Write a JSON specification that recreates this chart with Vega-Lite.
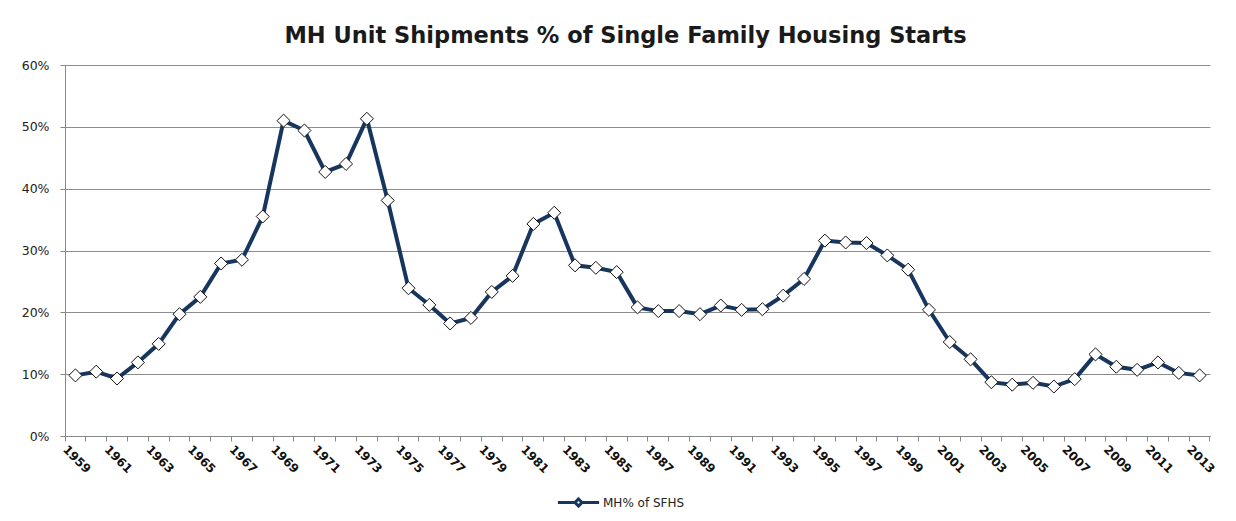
{
  "$schema": "https://vega.github.io/schema/vega-lite/v6.json",
  "autosize": {"type": "none"},
  "width": 1145,
  "height": 371,
  "padding": {"left": 65, "top": 65, "right": 26, "bottom": 85},
  "background": "white",
  "title": {
    "text": "MH Unit Shipments % of Single Family Housing Starts",
    "font": "DejaVu Sans",
    "fontSize": 22.5,
    "fontWeight": "bold",
    "color": "#1a1a1a",
    "anchor": "middle",
    "offset": 12,
    "dx": -12
  },
  "data": {
    "values": [
      {"year": 1959, "pct": 9.8}, {"year": 1960, "pct": 10.4}, {"year": 1961, "pct": 9.3},
      {"year": 1962, "pct": 11.9}, {"year": 1963, "pct": 14.9}, {"year": 1964, "pct": 19.7},
      {"year": 1965, "pct": 22.5}, {"year": 1966, "pct": 27.9}, {"year": 1967, "pct": 28.5},
      {"year": 1968, "pct": 35.5}, {"year": 1969, "pct": 51.0}, {"year": 1970, "pct": 49.4},
      {"year": 1971, "pct": 42.7}, {"year": 1972, "pct": 44.0}, {"year": 1973, "pct": 51.3},
      {"year": 1974, "pct": 38.1}, {"year": 1975, "pct": 23.9}, {"year": 1976, "pct": 21.2},
      {"year": 1977, "pct": 18.2}, {"year": 1978, "pct": 19.1}, {"year": 1979, "pct": 23.3},
      {"year": 1980, "pct": 25.9}, {"year": 1981, "pct": 34.3}, {"year": 1982, "pct": 36.1},
      {"year": 1983, "pct": 27.6}, {"year": 1984, "pct": 27.2}, {"year": 1985, "pct": 26.5},
      {"year": 1986, "pct": 20.8}, {"year": 1987, "pct": 20.2}, {"year": 1988, "pct": 20.2},
      {"year": 1989, "pct": 19.7}, {"year": 1990, "pct": 21.1}, {"year": 1991, "pct": 20.4},
      {"year": 1992, "pct": 20.5}, {"year": 1993, "pct": 22.7}, {"year": 1994, "pct": 25.4},
      {"year": 1995, "pct": 31.6}, {"year": 1996, "pct": 31.3}, {"year": 1997, "pct": 31.2},
      {"year": 1998, "pct": 29.2}, {"year": 1999, "pct": 26.9}, {"year": 2000, "pct": 20.4},
      {"year": 2001, "pct": 15.2}, {"year": 2002, "pct": 12.4}, {"year": 2003, "pct": 8.7},
      {"year": 2004, "pct": 8.3}, {"year": 2005, "pct": 8.6}, {"year": 2006, "pct": 8.0},
      {"year": 2007, "pct": 9.2}, {"year": 2008, "pct": 13.2}, {"year": 2009, "pct": 11.2},
      {"year": 2010, "pct": 10.7}, {"year": 2011, "pct": 11.9}, {"year": 2012, "pct": 10.2},
      {"year": 2013, "pct": 9.8}
    ]
  },
  "encoding": {
    "x": {
      "field": "year",
      "type": "ordinal",
      "scale": {"type": "band", "paddingInner": 0, "paddingOuter": 0},
      "axis": {
        "title": null,
        "bandPosition": 1,
        "tickExtra": true,
        "labelOffset": -10.41,
        "labelAngle": 45,
        "labelAlign": "left",
        "labelBaseline": "middle",
        "labelFont": "DejaVu Sans",
        "labelFontWeight": "bold",
        "labelFontSize": 12,
        "labelColor": "#111",
        "labelPadding": 6,
        "labelOverlap": false,
        "labelBound": false,
        "labelExpr": "datum.value % 2 == 1 ? datum.label : ''",
        "tickSize": 5,
        "tickColor": "#888",
        "domainColor": "#888",
        "grid": false
      }
    },
    "y": {
      "field": "pct",
      "type": "quantitative",
      "scale": {"domain": [0, 60], "nice": false},
      "axis": {
        "title": null,
        "values": [0, 10, 20, 30, 40, 50, 60],
        "labelExpr": "datum.value + '%'",
        "grid": true,
        "gridColor": "#8c8c8c",
        "gridWidth": 1,
        "domainColor": "#888",
        "tickColor": "#888",
        "tickSize": 5,
        "labelFont": "DejaVu Sans",
        "labelFontSize": 12.5,
        "labelColor": "#222",
        "labelPadding": 11
      }
    }
  },
  "layer": [
    {
      "mark": {"type": "line", "strokeWidth": 4},
      "encoding": {
        "color": {
          "datum": "MH% of SFHS",
          "scale": {"range": ["#17365D"]},
          "legend": {
            "title": null,
            "orient": "none",
            "legendX": 491,
            "legendY": 415,
            "symbolType": "M-1,0L-0.17,0M0.17,0L1,0M0,-0.17L0.17,0L0,0.17L-0.17,0Z",
            "symbolSize": 1700,
            "symbolStrokeWidth": 3,
            "symbolFillColor": "white",
            "symbolStrokeColor": "#17365D",
            "labelFont": "DejaVu Sans",
            "labelFontSize": 12,
            "labelColor": "#222",
            "labelOffset": 2
          }
        }
      }
    },
    {
      "mark": {
        "type": "point",
        "shape": "diamond",
        "filled": true,
        "fill": "white",
        "stroke": "#111",
        "strokeWidth": 1,
        "size": 170,
        "opacity": 1
      }
    }
  ],
  "config": {"view": {"stroke": null}}
}
